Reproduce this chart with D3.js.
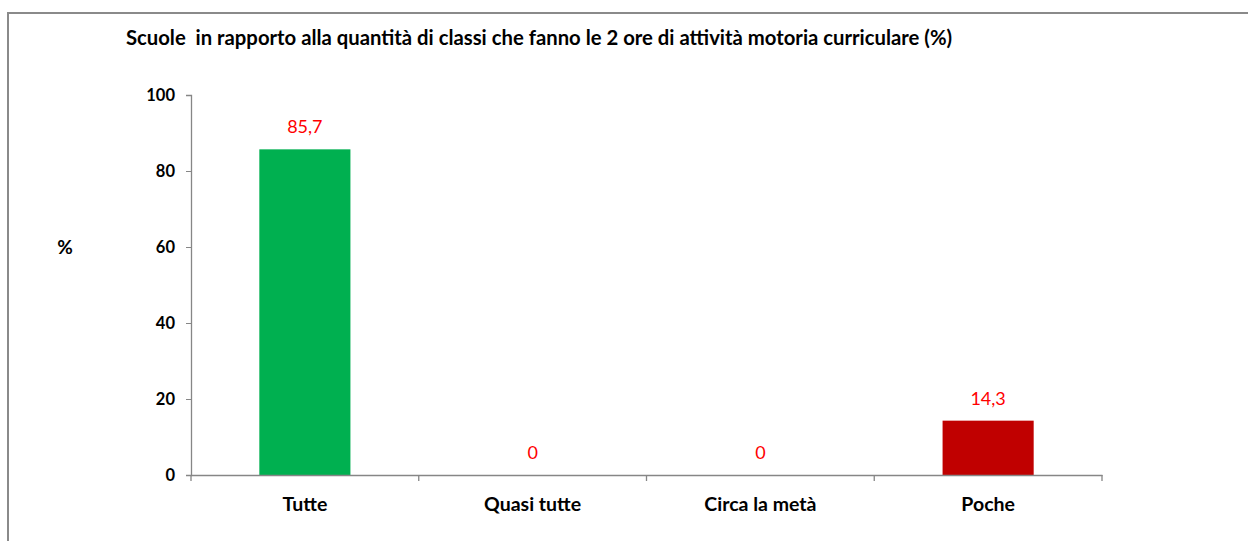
<!DOCTYPE html>
<html><head><meta charset="utf-8">
<script src="https://cdn.jsdelivr.net/npm/d3@7"></script>
<style>body{margin:0;background:#fff;}svg{display:block;font-family:Lato,"Open Sans",sans-serif;}</style>
</head><body>
<svg id="c" width="1248" height="541"></svg>
<script>
const categories = ["Tutte", "Quasi tutte", "Circa la metà", "Poche"];
const values = [85.7, 0, 0, 14.3];
const valueLabels = ["85,7", "0", "0", "14,3"];
const barColors = ["#00B050", "#00B050", "#00B050", "#C00000"];
const yTicks = [0, 20, 40, 60, 80, 100];
const title = "Scuole  in rapporto alla quantità di classi che fanno le 2 ore di attività motoria curriculare (%)";

const svg = d3.select("#c");
svg.append("rect").attr("x", 8).attr("y", 13).attr("width", 1260).attr("height", 560)
  .attr("fill", "none").attr("stroke", "#8a8a8a").attr("stroke-width", 2);

const x0 = 191, x1 = 1102, yB = 475, yT = 95;
const x = d3.scaleBand().domain(categories).range([x0, x1]).paddingInner(0).paddingOuter(0);
const y = d3.scaleLinear().domain([0, 100]).range([yB, yT]);
const bw = x.bandwidth() * 0.4;

svg.append("text").attr("x", 539).attr("y", 45).attr("text-anchor", "middle")
  .attr("font-size", 20.3).attr("font-weight", "bold").attr("fill", "#000").style("white-space","pre").text(title);

svg.append("text").attr("x", 65).attr("y", 254).attr("text-anchor", "middle")
  .attr("font-size", 19).attr("font-weight", "bold").text("%");

const ya = svg.append("g").attr("transform", `translate(${x0},0)`)
  .call(d3.axisLeft(y).tickValues(yTicks).tickSize(5).tickPadding(11));
ya.select(".domain").attr("stroke", "#868686").attr("stroke-width", 1.3);
ya.selectAll(".tick line").attr("stroke", "#868686");
ya.selectAll(".tick text").attr("font-size", 16.5).attr("font-weight", "bold").attr("fill", "#000").attr("font-family", "Lato");

svg.selectAll("rect.bar").data(values).join("rect").attr("class", "bar")
  .attr("x", (d, i) => x(categories[i]) + (x.bandwidth() - bw) / 2)
  .attr("y", d => y(d)).attr("width", bw).attr("height", d => yB - y(d))
  .attr("fill", (d, i) => barColors[i]);

const xa = svg.append("g").attr("transform", `translate(0,${yB})`)
  .call(d3.axisBottom(x).tickSize(0).tickPadding(22));
xa.select(".domain").attr("stroke", "#868686").attr("stroke-width", 1.3);
xa.selectAll(".tick text").attr("font-size", 19.5).attr("font-weight", "bold").attr("fill", "#000").attr("font-family", "Lato");
const bounds = categories.map(c => x(c)).concat([x1]);
svg.selectAll("line.xt").data(bounds).join("line").attr("class", "xt")
  .attr("x1", d => d).attr("x2", d => d).attr("y1", yB).attr("y2", yB + 6)
  .attr("stroke", "#868686").attr("stroke-width", 1.3);

svg.selectAll("text.vl").data(values).join("text").attr("class", "vl")
  .attr("x", (d, i) => x(categories[i]) + x.bandwidth() / 2)
  .attr("y", d => y(d) - 16).attr("text-anchor", "middle")
  .attr("font-size", 18).attr("fill", "#FF0000")
  .text((d, i) => valueLabels[i]);
</script>
</body></html>
